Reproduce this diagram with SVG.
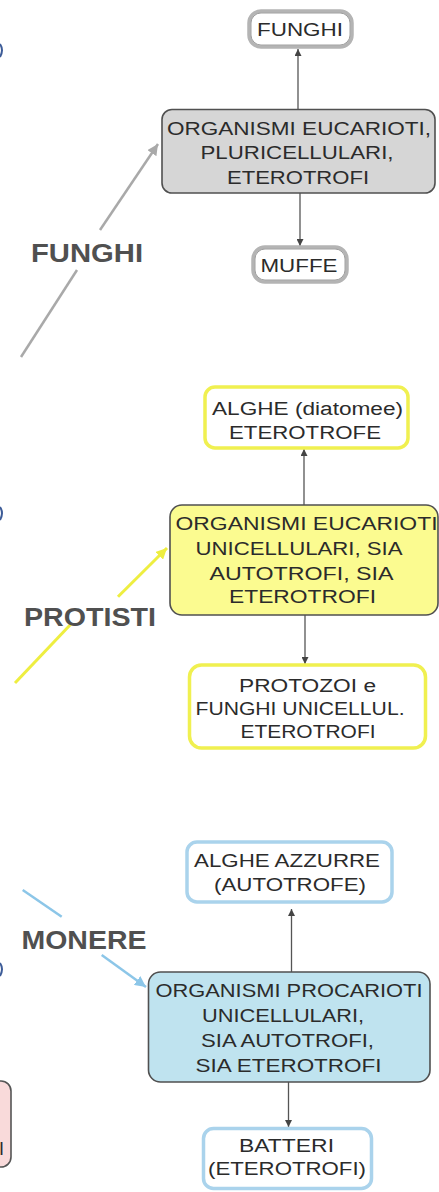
<svg xmlns="http://www.w3.org/2000/svg" width="439" height="1192" viewBox="0 0 439 1192">
<style>
.t{font-family:"Liberation Sans",Arial,sans-serif;font-size:18px;fill:#2b2b2b}
.b{font-family:"Liberation Sans",Arial,sans-serif;font-size:25px;font-weight:bold;fill:#505050}
.main{stroke:#505050;stroke-width:1.6}
.leaf-g{fill:#fff;stroke:#b4b4b4;stroke-width:3.5}
.leaf-y{fill:#fff;stroke:#f0f050;stroke-width:3.5}
.leaf-b{fill:#fff;stroke:#aad3ec;stroke-width:3.5}
.in{fill:none;stroke:#888;stroke-width:0.8}
.c{stroke:#555;stroke-width:1.3;fill:none}
</style>
<defs>
<marker id="ah" viewBox="0 0 10 10" refX="10" refY="5" markerWidth="7" markerHeight="7" markerUnits="userSpaceOnUse" orient="auto"><path d="M0,0 L10,5 L0,10 z" fill="#444"/></marker>
<marker id="ahg" viewBox="0 0 10 10" refX="10" refY="5" markerWidth="11" markerHeight="11" markerUnits="userSpaceOnUse" orient="auto"><path d="M0,0 L10,5 L0,10 z" fill="#a9a9a9"/></marker>
<marker id="ahy" viewBox="0 0 10 10" refX="10" refY="5" markerWidth="11" markerHeight="11" markerUnits="userSpaceOnUse" orient="auto"><path d="M0,0 L10,5 L0,10 z" fill="#eeee40"/></marker>
<marker id="ahb" viewBox="0 0 10 10" refX="10" refY="5" markerWidth="11" markerHeight="11" markerUnits="userSpaceOnUse" orient="auto"><path d="M0,0 L10,5 L0,10 z" fill="#8cc6e8"/></marker>
</defs>
<rect width="439" height="1192" fill="#fff"/>

<g id="edge-fragments">
<path d="M0,44 Q4,50 0,57" stroke="#3d5c98" stroke-width="2" fill="none"/>
<path d="M0,507 Q4,513 0,520" stroke="#3d5c98" stroke-width="2" fill="none"/>
<path d="M0,963 Q4,969 0,976" stroke="#3d5c98" stroke-width="2" fill="none"/>
</g>
<g id="pink-node">
<rect x="-40" y="1081" width="51" height="86" rx="10" fill="#f9dada" stroke="#555" stroke-width="1.6"/>
<text class="t" x="-1" y="1155">I</text>
</g>

<g id="connectors">
<line class="c" x1="298" y1="109" x2="298" y2="49" marker-end="url(#ah)"/>
<line class="c" x1="300" y1="193" x2="300" y2="246" marker-end="url(#ah)"/>
<line class="c" x1="304" y1="505" x2="304" y2="449" marker-end="url(#ah)"/>
<line class="c" x1="305" y1="615" x2="305" y2="664" marker-end="url(#ah)"/>
<line class="c" x1="291.5" y1="972" x2="291.5" y2="909" marker-end="url(#ah)"/>
<line class="c" x1="288.5" y1="1082" x2="288.5" y2="1127" marker-end="url(#ah)"/>
<line x1="21" y1="357" x2="77" y2="270" stroke="#a9a9a9" stroke-width="2.5"/>
<line x1="100" y1="230" x2="158" y2="144" stroke="#a9a9a9" stroke-width="2.5" marker-end="url(#ahg)"/>
<line x1="15" y1="683" x2="71.7" y2="623.3" stroke="#eeee40" stroke-width="3"/>
<line x1="118" y1="596.7" x2="167" y2="548" stroke="#eeee40" stroke-width="3" marker-end="url(#ahy)"/>
<line x1="22.7" y1="890" x2="61.7" y2="916.7" stroke="#8cc6e8" stroke-width="2.5"/>
<line x1="101.7" y1="955" x2="146" y2="987" stroke="#8cc6e8" stroke-width="2.5" marker-end="url(#ahb)"/>
</g>

<g id="label-funghi"><text class="b" x="31" y="262" textLength="112" lengthAdjust="spacingAndGlyphs">FUNGHI</text></g>
<g id="label-protisti"><text class="b" x="24" y="626" textLength="132" lengthAdjust="spacingAndGlyphs">PROTISTI</text></g>
<g id="label-monere"><text class="b" x="21.5" y="948.5" textLength="125" lengthAdjust="spacingAndGlyphs">MONERE</text></g>

<g id="node-funghi">
<rect class="leaf-g" x="249" y="11" width="103" height="36" rx="12"/>
<rect class="in" x="251" y="13" width="99" height="32" rx="10"/>
<text class="t" x="257" y="36" textLength="86" lengthAdjust="spacingAndGlyphs">FUNGHI</text>
</g>
<g id="node-eucarioti-pluri">
<rect class="main" x="162" y="109.5" width="273" height="83.5" rx="10" fill="#d6d6d6"/>
<text class="t" x="167" y="135" textLength="264" lengthAdjust="spacingAndGlyphs">ORGANISMI EUCARIOTI,</text>
<text class="t" x="200.5" y="159" textLength="193" lengthAdjust="spacingAndGlyphs">PLURICELLULARI,</text>
<text class="t" x="227" y="184" textLength="142" lengthAdjust="spacingAndGlyphs">ETEROTROFI</text>
</g>
<g id="node-muffe">
<rect class="leaf-g" x="253" y="247" width="94" height="35" rx="12"/>
<rect class="in" x="255" y="249" width="90" height="31" rx="10"/>
<text class="t" x="260.5" y="272" textLength="77" lengthAdjust="spacingAndGlyphs">MUFFE</text>
</g>

<g id="node-alghe-diatomee">
<rect class="leaf-y" x="205" y="387" width="203" height="61" rx="10"/>
<text class="t" x="212" y="415" textLength="191" lengthAdjust="spacingAndGlyphs">ALGHE (diatomee)</text>
<text class="t" x="229" y="438.5" textLength="152" lengthAdjust="spacingAndGlyphs">ETEROTROFE</text>
</g>
<g id="node-eucarioti-uni">
<rect class="main" x="170" y="505" width="268" height="110" rx="12" fill="#fbfb90"/>
<text class="t" x="175.5" y="530" textLength="262" lengthAdjust="spacingAndGlyphs">ORGANISMI EUCARIOTI</text>
<text class="t" x="195.5" y="555" textLength="207" lengthAdjust="spacingAndGlyphs">UNICELLULARI, SIA</text>
<text class="t" x="209.5" y="580" textLength="184" lengthAdjust="spacingAndGlyphs">AUTOTROFI, SIA</text>
<text class="t" x="229" y="603" textLength="147" lengthAdjust="spacingAndGlyphs">ETEROTROFI</text>
</g>
<g id="node-protozoi">
<rect class="leaf-y" x="189.5" y="665" width="236" height="83" rx="12"/>
<text class="t" x="239" y="692" textLength="137" lengthAdjust="spacingAndGlyphs">PROTOZOI e</text>
<text class="t" x="195.5" y="715" textLength="209" lengthAdjust="spacingAndGlyphs">FUNGHI UNICELLUL.</text>
<text class="t" x="240.5" y="738" textLength="135" lengthAdjust="spacingAndGlyphs">ETEROTROFI</text>
</g>

<g id="node-alghe-azzurre">
<rect class="leaf-b" x="187" y="842" width="205" height="60" rx="10"/>
<text class="t" x="194" y="866.5" textLength="186" lengthAdjust="spacingAndGlyphs">ALGHE AZZURRE</text>
<text class="t" x="214" y="891" textLength="152" lengthAdjust="spacingAndGlyphs">(AUTOTROFE)</text>
</g>
<g id="node-procarioti">
<rect class="main" x="148.5" y="972" width="281.5" height="110" rx="12" fill="#bfe3ef"/>
<text class="t" x="155.5" y="996.5" textLength="267" lengthAdjust="spacingAndGlyphs">ORGANISMI PROCARIOTI</text>
<text class="t" x="202" y="1021.5" textLength="162" lengthAdjust="spacingAndGlyphs">UNICELLULARI,</text>
<text class="t" x="201" y="1046.5" textLength="173" lengthAdjust="spacingAndGlyphs">SIA AUTOTROFI,</text>
<text class="t" x="195.5" y="1071.5" textLength="186" lengthAdjust="spacingAndGlyphs">SIA ETEROTROFI</text>
</g>
<g id="node-batteri">
<rect class="leaf-b" x="203.5" y="1128.5" width="168" height="60" rx="10"/>
<text class="t" x="239" y="1151.5" textLength="95" lengthAdjust="spacingAndGlyphs">BATTERI</text>
<text class="t" x="208" y="1175" textLength="158" lengthAdjust="spacingAndGlyphs">(ETEROTROFI)</text>
</g>
</svg>
